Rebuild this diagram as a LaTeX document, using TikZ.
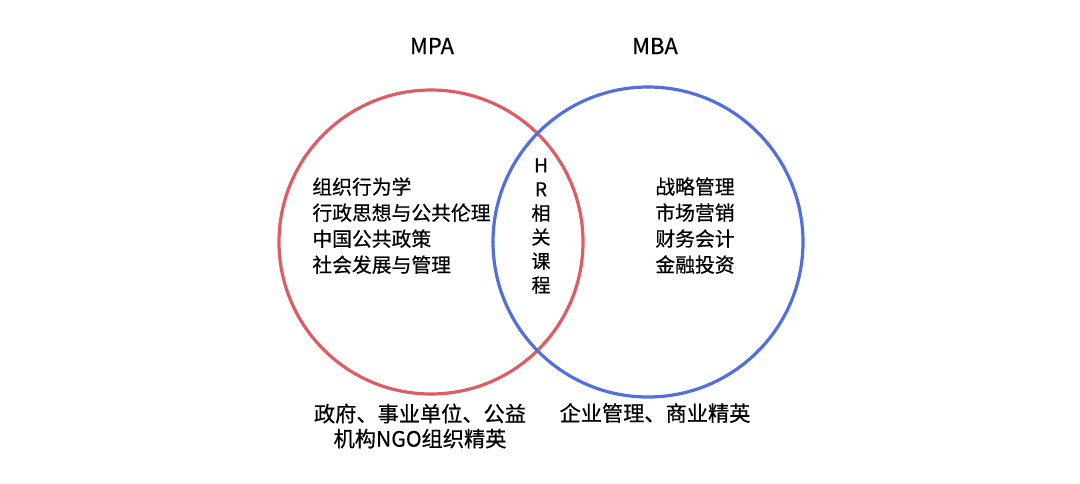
\documentclass[tikz,border=0pt]{standalone}
\usepackage{fontspec}
\setmainfont{Noto Sans CJK SC}[FakeBold=0.6,AutoFakeBold=0.6]
\definecolor{mpared}{RGB}{222,92,100}
\definecolor{mbablue}{RGB}{84,110,222}
\begin{document}
\begin{tikzpicture}[x=0.5pt,y=-0.5pt]
    % Frame
    \useasboundingbox (0,0) rectangle (1080,483);
    \tikzset{
        ring/.style={line width=1.6pt},
        title/.style={font=\fontsize{11}{13}\selectfont},
        course/.style={font=\fontsize{9.9}{13}\selectfont, align=left, anchor=north west, inner sep=0pt},
        field/.style={font=\fontsize{10.6}{12.5}\selectfont, align=center, inner sep=0pt}
    }

    % Circles
    \draw[ring, mpared] (431,242) circle (152);
    \draw[ring, mbablue] (648,242) circle (155);

    % Titles
    \node[title] (mpa) at (432,46) {MPA};
    \node[title] (mba) at (655,46) {MBA};

    % Courses
    \node[course] (mpalist) at (312,177) {组织行为学\\行政思想与公共伦理\\中国公共政策\\社会发展与管理};
    \node[course] (mbalist) at (655,177) {战略管理\\市场营销\\财务会计\\金融投资};
    \node[font=\fontsize{9.5}{12}\selectfont, align=center, inner sep=0pt] (hr) at (541,226) {H\\R\\相\\关\\课\\程};

    % Careers
    \node[field] (mpajob) at (420,426) {政府、事业单位、公益\\机构NGO组织精英};
    \node[field] (mbajob) at (655,413) {企业管理、商业精英};
\end{tikzpicture}
\end{document}
